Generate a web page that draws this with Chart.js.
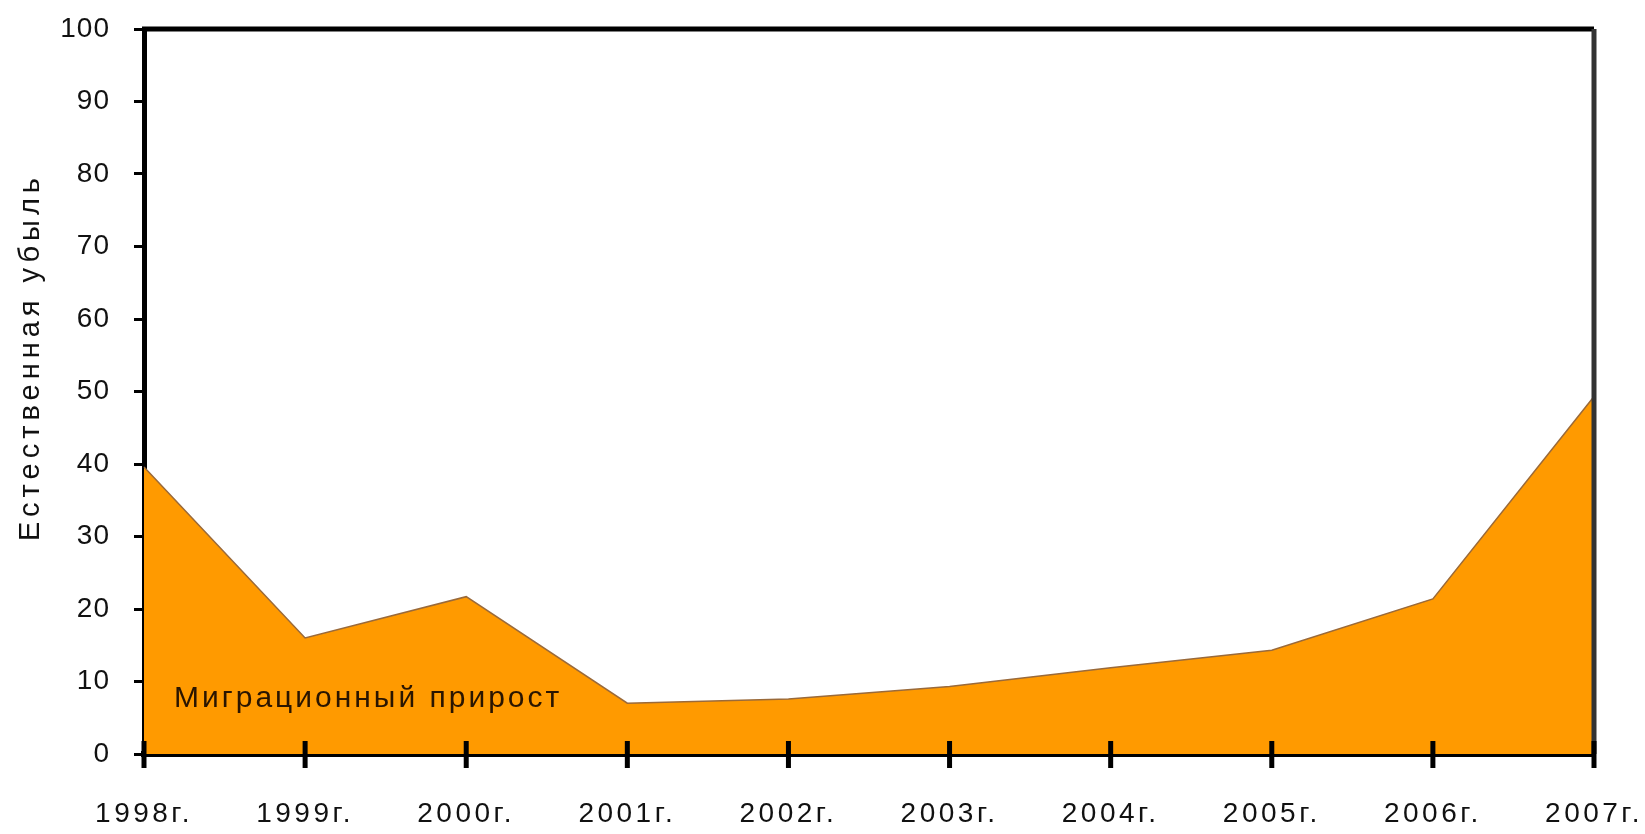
<!DOCTYPE html>
<html>
<head>
<meta charset="utf-8">
<script src="https://cdn.jsdelivr.net/npm/chart.js@4"></script>
<style>
  html, body { margin: 0; padding: 0; background: #fff; }
  #wrap { width: 1645px; height: 834px; }
</style>
</head>
<body>
<div id="wrap"><canvas id="chart"></canvas></div>
<script>
// Данные графика
const years = ["1998г.", "1999г.", "2000г.", "2001г.", "2002г.", "2003г.", "2004г.", "2005г.", "2006г.", "2007г."];
const migration = [39.6, 16, 21.7, 7, 7.6, 9.3, 11.9, 14.3, 21.4, 49.3];
const yTicks = [0, 10, 20, 30, 40, 50, 60, 70, 80, 90, 100];
const yTitle = "Естественная убыль";
const areaLabel = "Миграционный прирост";

const FONT = "'Liberation Sans', Arial, sans-serif";

// Разрядка букв для подписей шкалы
function spaced(scale, spacing) {
    if (scale._spacedPatched) return;
    const orig = scale.drawLabels;
    scale.drawLabels = function (area) {
        const ctx = this.ctx;
        ctx.save();
        ctx.letterSpacing = spacing;
        orig.call(this, area);
        ctx.restore();
    };
    scale._spacedPatched = true;
}

// Рамка сверху/справа, перекрёстные засечки на оси X и подписи
const extras = {
    id: "extras",
    afterDraw(chart) {
        const ctx = chart.ctx;
        const a = chart.chartArea;
        const xs = chart.scales.x;
        const ys = chart.scales.y;
        ctx.save();
        ctx.strokeStyle = "#000";
        ctx.lineWidth = 5;
        ctx.beginPath();
        ctx.moveTo(a.left - 2, a.top);
        ctx.lineTo(a.right, a.top);
        ctx.stroke();
        ctx.strokeStyle = "#333";
        ctx.lineWidth = 5;
        ctx.beginPath();
        ctx.moveTo(a.right, a.top);
        ctx.lineTo(a.right, a.bottom);
        ctx.stroke();

        ctx.strokeStyle = "#000";
        ctx.lineWidth = 5;
        years.forEach((y, i) => {
            const px = xs.getPixelForValue(i);
            ctx.beginPath();
            ctx.moveTo(px, a.bottom - 13);
            ctx.lineTo(px, a.bottom + 14);
            ctx.stroke();
        });

        ctx.fillStyle = "#2a1500";
        ctx.font = "30px " + FONT;
        ctx.letterSpacing = "3px";
        ctx.textBaseline = "middle";
        ctx.textAlign = "left";
        ctx.fillText(areaLabel, xs.getPixelForValue(0) + 30, ys.getPixelForValue(7.6));

        ctx.fillStyle = "#111";
        ctx.font = "29px " + FONT;
        ctx.letterSpacing = "5px";
        ctx.translate(31, 357);
        ctx.rotate(-Math.PI / 2);
        ctx.textAlign = "center";
        ctx.fillText(yTitle, 0, 0);
        ctx.restore();
    }
};

new Chart(document.getElementById("chart"), {
    type: "line",
    data: {
        labels: years,
        datasets: [{
            data: migration,
            fill: "origin",
            backgroundColor: "#FF9A00",
            borderColor: "#9a6a3a",
            borderWidth: 1.5,
            pointRadius: 0,
            tension: 0,
        }],
    },
    options: {
        responsive: true,
        maintainAspectRatio: false,
        animation: false,
        layout: { padding: { top: 29, right: 0, left: 0, bottom: 0 } },
        plugins: {
            legend: { display: false },
            tooltip: { enabled: false },
        },
        scales: {
            x: {
                offset: false,
                grid: { display: true, drawOnChartArea: false, drawTicks: false },
                border: { display: true, color: "#000", width: 6 },
                ticks: {
                    color: "#111",
                    font: { family: FONT, size: 28 },
                    padding: 43,
                    maxRotation: 0,
                    autoSkip: false,
                },
                afterFit: (s) => {
                    s.height = 80;
                    s.paddingLeft = 0;
                    s.paddingRight = 51;
                    spaced(s, "3.5px");
                },
            },
            y: {
                min: 0,
                max: 100,
                afterBuildTicks: (s) => { s.ticks = yTicks.map(v => ({ value: v })); },
                grid: { drawOnChartArea: false, drawTicks: true, tickLength: 10, color: "#000", lineWidth: 3 },
                border: { display: true, color: "#000", width: 5 },
                ticks: {
                    color: "#111",
                    font: { family: FONT, size: 28 },
                    padding: 24,
                },
                afterFit: (s) => {
                    s.width = 144;
                    s.paddingTop = 0;
                    s.paddingBottom = 0;
                    spaced(s, "1px");
                },
            },
        },
    },
    plugins: [extras],
});
</script>
</body>
</html>
